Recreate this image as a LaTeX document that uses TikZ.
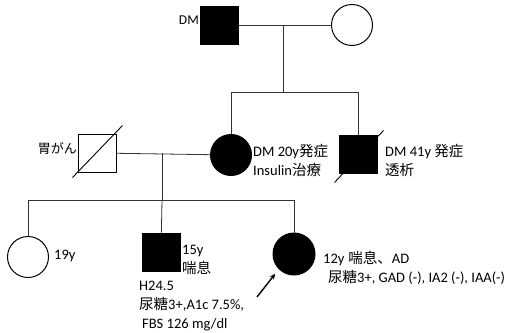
\documentclass[tikz,border=0pt]{standalone}
\usepackage{fontspec}
\setmainfont{Carlito}
\newfontfamily\jp{Noto Sans CJK JP}
\begin{document}
\begin{tikzpicture}[x=1pt,y=-1pt]
    \tikzstyle{male} = [rectangle, draw, minimum size=38pt, inner sep=0pt, line width=1pt]
    \tikzstyle{female} = [circle, draw, minimum size=41pt, inner sep=0pt, line width=1pt]
    \tikzstyle{affected} = [fill=black]
    \tikzstyle{note} = [anchor=west, align=left, inner sep=0pt, font=\fontsize{14.5}{19}\selectfont]
    \tikzstyle{link} = [line width=0.8pt, black!80]
    \tikzstyle{dead} = [line width=0.9pt]
    \tikzstyle{arrow} = [line width=1.4pt,->,>=stealth]

    \useasboundingbox (0,0) rectangle (521,332);

    % Grandparents
    \node [male, affected] (grandfather) at (219,25) {};
    \node [female] (grandmother) at (352,25) {};
    \node [anchor=east, inner sep=1pt, font=\fontsize{13.5}{15}\selectfont] (grandfathernote) at (200,20) {DM};
    \coordinate (couple1) at (283,25);
    \coordinate (sib1) at (283,92);
    \coordinate (sib1left) at (231,92);
    \coordinate (sib1right) at (358,92);
    \draw [link] (grandfather) -- (grandmother);
    \draw [link] (couple1) -- (sib1);
    \draw [link] (sib1left) -- (sib1right);

    % Parents
    \node [male] (father) at (97,153) {};
    \node [female, affected] (mother) at (231,155) {};
    \node [male, affected] (uncle) at (358,154) {};
    \draw [dead] ([shift={(-5,5)}]father.south west) -- ([shift={(6,-8)}]father.north east);
    \draw [dead] ([shift={(-4,9)}]uncle.south west) -- ([shift={(6,-4)}]uncle.north east);
    \node [note, anchor=east, font=\fontsize{13}{15}\selectfont] (fathernote) at (77,149) {\jp 胃がん};
    \node [note] (mothernote) at (253,160) {DM 20y{\jp 発症}\\Insulin{\jp 治療}};
    \node [note] (unclenote) at (385,160) {DM 41y {\jp 発症}\\{\jp 透析}};
    \draw [link] (sib1left) -- (mother);
    \draw [link] (sib1right) -- (uncle);
    \coordinate (couple2) at (162,153);
    \coordinate (sib2) at (162,200);
    \coordinate (sib2left) at (28,200);
    \coordinate (sib2right) at (294,200);
    \draw [link] (father) -- (mother);
    \draw [link] (couple2) -- (sib2);
    \draw [link] (sib2left) -- (sib2right);

    % Children
    \node [female] (sister) at (28,257) {};
    \node [male, affected] (brother) at (161,252) {};
    \node [female, affected, minimum size=42pt] (proband) at (294,254) {};
    \node [note] (sisternote) at (54,256) {19y};
    \node [note] (brothernote) at (182,260) {15y\\{\jp 喘息}};
    \node [note] (brotherlab) at (139,306) {H24.5\\{\jp 尿糖}3+,A1c 7.5\%,\\\hspace{3pt}FBS 126 mg/dl};
    \node [note] (probandnote) at (323,268) {12y\hspace{4pt}{\jp 喘息、}AD\\\hspace{5pt}{\jp 尿糖}3+, GAD (-), IA2 (-), IAA(-)};
    \draw [link] (sib2left) -- (sister);
    \draw [link] (sib2) -- (brother);
    \draw [link] (sib2right) -- (proband);

    % Proband arrow
    \coordinate (arrowtail) at (257,297);
    \draw [arrow, shorten >=6pt] (arrowtail) -- (proband.south west);

\end{tikzpicture}
\end{document}
